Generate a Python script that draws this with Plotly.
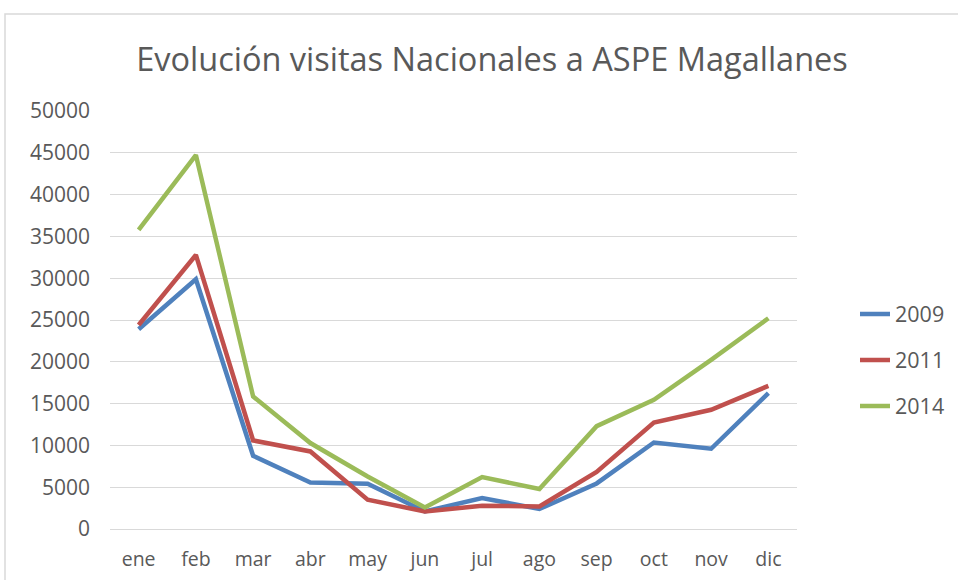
import plotly.graph_objects as go

months = ["ene", "feb", "mar", "abr", "may", "jun", "jul", "ago", "sep", "oct", "nov", "dic"]
v2009 = [23900, 29870, 8760, 5570, 5410, 2100, 3700, 2390, 5450, 10350, 9600, 16250]
v2011 = [24400, 32780, 10590, 9280, 3500, 2100, 2780, 2700, 6820, 12740, 14260, 17120]
v2014 = [35780, 44730, 15850, 10280, 6290, 2580, 6210, 4780, 12300, 15450, 20230, 25210]
series_names = ["2009", "2011", "2014"]
colors = ["#4F81BD", "#C0504D", "#9BBB59"]
yticks = [0, 5000, 10000, 15000, 20000, 25000, 30000, 35000, 40000, 45000, 50000]

font = "Open Sans, Lato, sans-serif"
fig = go.Figure()
for name, vals, c in zip(series_names, [v2009, v2011, v2014], colors):
    fig.add_trace(go.Scatter(x=months, y=vals, name=name, mode="lines",
                             legendgroup=name,
                             line=dict(color=c, width=4.5)))

W, H = 958, 580
l, r, t, b = 110, 161, 111, 51
pw, ph = W - l - r, H - t - b

def px(x):
    return (x - l) / pw

def py(y):
    return (H - b - y) / ph

fig.update_layout(
    width=W, height=H,
    margin=dict(l=l, r=r, t=t, b=b, autoexpand=False),
    paper_bgcolor="white", plot_bgcolor="white",
    font=dict(family=font, size=20, color="#595959"),
    title=dict(text="Evolución visitas Nacionales a ASPE Magallanes",
               xref="container", x=492 / W, xanchor="center",
               yref="container", y=1 - 60 / H, yanchor="middle",
               font=dict(size=32.5, color="#595959", family=font)),
    showlegend=True,
    legend=dict(x=px(855), y=py(360), xanchor="left", yanchor="middle",
                font=dict(size=21.5, color="#595959"),
                tracegroupgap=15, bgcolor="rgba(0,0,0,0)"),
    xaxis=dict(type="category", showgrid=False, zeroline=False,
               showline=True, linecolor="#D9D9D9", linewidth=1.3,
               ticks="", tickfont=dict(size=19.5, color="#595959"),
               ticklabelstandoff=12, range=[-0.5, 11.5], automargin=False),
    yaxis=dict(range=[0, 50000], tickvals=yticks, showgrid=True,
               gridcolor="#D9D9D9", gridwidth=1.3, zeroline=False,
               showline=False, ticks="", tickfont=dict(size=21, color="#595959"),
               ticklabelstandoff=19, tickformat="d", automargin=False),
    shapes=[dict(type="rect", xref="paper", yref="paper",
                 x0=px(5), x1=px(1010), y0=py(620), y1=py(14),
                 line=dict(color="#D9D9D9", width=1.5), fillcolor="rgba(0,0,0,0)",
                 layer="below")],
)

fig.write_html("out.html", config={"displayModeBar": False},
               post_script="document.body.style.margin='0';")
